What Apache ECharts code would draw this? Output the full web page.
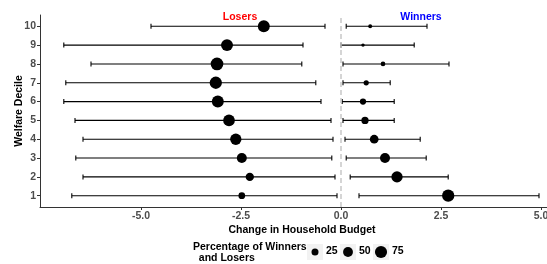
<!DOCTYPE html>
<html>
<head>
<meta charset="utf-8">
<script src="https://cdn.jsdelivr.net/npm/echarts@6/dist/echarts.min.js"></script>
<style>
  html, body { margin: 0; padding: 0; background: #fff; }
  #chart { width: 547px; height: 264px; }
</style>
</head>
<body>
<div id="chart"></div>
<script>
// deciles 1..10 (bottom to top)
var deciles = [1, 2, 3, 4, 5, 6, 7, 8, 9, 10];

// losers: mean change, range and share (%)
var loserMid  = [-2.48, -2.28, -2.48, -2.63, -2.80, -3.08, -3.13, -3.10, -2.85, -1.93];
var loserLow  = [-6.73, -6.45, -6.63, -6.45, -6.65, -6.93, -6.88, -6.25, -6.93, -4.75];
var loserHigh = [-0.10, -0.15, -0.23, -0.20, -0.25, -0.50, -0.63, -0.98, -0.95, -0.40];
var loserPct  = [23, 35, 51, 65, 70, 73, 77, 82, 73, 73];

// winners
var winnerMid  = [2.68, 1.40, 1.10, 0.83, 0.60, 0.55, 0.63, 1.05, 0.55, 0.73];
var winnerLow  = [0.45, 0.23, 0.13, 0.10, 0.05, 0.03, 0.05, 0.05, 0.00, 0.13];
var winnerHigh = [4.95, 2.68, 2.13, 1.98, 1.33, 1.33, 1.23, 2.70, 1.83, 2.15];
var winnerPct  = [77, 65, 51, 39, 27, 20, 14, 11, 6, 8];

var xTicks = [-5, -2.5, 0, 2.5, 5];
var legendPct = [25, 50, 75];

var FONT = 'Liberation Sans, Arial, Helvetica, sans-serif';

function dotSize(p) {
	return 1.4 * Math.sqrt(p);
}

function rangeData(lo, hi) {
	var out = [];
	for (var i = 0; i < deciles.length; i++) out.push([deciles[i], lo[i], hi[i]]);
	return out;
}

function pointData(mid, pct) {
	var out = [];
	for (var i = 0; i < deciles.length; i++) out.push([mid[i], deciles[i], pct[i]]);
	return out;
}

// horizontal error bar with small caps
function renderRange(params, api) {
	var y = api.value(0);
	var a = api.coord([api.value(1), y]);
	var b = api.coord([api.value(2), y]);
	var st = { stroke: '#000', lineWidth: 1.1 };
	var cap = 2.5;
	return {
		type: 'group',
		children: [
			{ type: 'line', shape: { x1: a[0], y1: a[1], x2: b[0], y2: b[1] }, style: st },
			{ type: 'line', shape: { x1: a[0], y1: a[1] - cap, x2: a[0], y2: a[1] + cap }, style: st },
			{ type: 'line', shape: { x1: b[0], y1: b[1] - cap, x2: b[0], y2: b[1] + cap }, style: st }
		]
	};
}

// legend built by hand (keys of different sizes)
var legendItems = [];
legendItems.push({
	type: 'text', left: 193, top: 242,
	style: { text: 'Percentage of Winners\n  and Losers', font: 'bold 10.5px ' + FONT, fill: '#000', lineHeight: 11 }
});
var keyX = [307, 340, 373];
for (var k = 0; k < legendPct.length; k++) {
	legendItems.push({
		type: 'rect', shape: { x: keyX[k], y: 244, width: 16, height: 16 },
		style: { fill: '#f2f2f2' }
	});
	legendItems.push({
		type: 'circle', shape: { cx: keyX[k] + 8, cy: 252, r: dotSize(legendPct[k]) / 2 },
		style: { fill: '#000' }
	});
	legendItems.push({
		type: 'text', x: keyX[k] + 19, y: 251.5,
		style: { text: String(legendPct[k]), font: 'bold 10.5px ' + FONT, fill: '#000', verticalAlign: 'middle' }
	});
}

var chart = echarts.init(document.getElementById('chart'), null, { renderer: 'canvas' });

var option = {
	animation: false,
	backgroundColor: '#fff',
	grid: { left: 40, right: 0, top: 15, bottom: 57, outerBoundsMode: 'none' },
	xAxis: {
		type: 'value',
		min: -7.525,
		max: 5.15,
		splitLine: { show: false },
		axisLine: { onZero: false, lineStyle: { color: '#333', width: 1 } },
		axisTick: { show: true, length: 3, customValues: xTicks, lineStyle: { color: '#333' } },
		axisLabel: {
			customValues: xTicks, margin: 4, hideOverlap: false,
			color: '#4d4d4d', fontWeight: 'bold', fontSize: 10.5, fontFamily: FONT,
			formatter: function (v) { return v.toFixed(1); }
		}
	},
	yAxis: {
		type: 'value',
		min: 0.4,
		max: 10.6,
		splitLine: { show: false },
		axisLine: { show: true, onZero: false, lineStyle: { color: '#333', width: 1 } },
		axisTick: { show: true, length: 3, customValues: deciles, lineStyle: { color: '#333' } },
		axisLabel: {
			customValues: deciles, margin: 4,
			color: '#4d4d4d', fontWeight: 'bold', fontSize: 10.5, fontFamily: FONT
		}
	},
	graphic: [
		{ type: 'text', x: 240, y: 17, style: { text: 'Losers', font: 'bold 10.5px ' + FONT, fill: '#ff0000', align: 'center', verticalAlign: 'middle' } },
		{ type: 'text', x: 421, y: 17, style: { text: 'Winners', font: 'bold 10.5px ' + FONT, fill: '#0000ff', align: 'center', verticalAlign: 'middle' } },
		{ type: 'text', x: 302, y: 230, style: { text: 'Change in Household Budget', font: 'bold 10.5px ' + FONT, fill: '#000', align: 'center', verticalAlign: 'middle' } },
		{ type: 'text', x: 19, y: 111, rotation: Math.PI / 2, style: { text: 'Welfare Decile', font: 'bold 10.5px ' + FONT, fill: '#000', align: 'center', verticalAlign: 'middle' } }
	].concat(legendItems),
	series: [
		{
			type: 'scatter', name: 'zero', data: [], silent: true,
			markLine: {
				silent: true, symbol: 'none', label: { show: false },
				lineStyle: { color: '#c8c8c8', type: [5, 3], width: 1.5 },
				data: [{ xAxis: 0 }]
			}
		},
		{ type: 'custom', name: 'loserRange', renderItem: renderRange, encode: { x: [1, 2], y: 0 }, data: rangeData(loserLow, loserHigh), z: 2 },
		{ type: 'custom', name: 'winnerRange', renderItem: renderRange, encode: { x: [1, 2], y: 0 }, data: rangeData(winnerLow, winnerHigh), z: 2 },
		{
			type: 'scatter', name: 'losers', data: pointData(loserMid, loserPct), z: 3,
			symbolSize: function (v) { return dotSize(v[2]); },
			itemStyle: { color: '#000', opacity: 1 }
		},
		{
			type: 'scatter', name: 'winners', data: pointData(winnerMid, winnerPct), z: 3,
			symbolSize: function (v) { return dotSize(v[2]); },
			itemStyle: { color: '#000', opacity: 1 }
		}
	]
};
chart.setOption(option);
</script>
</body>
</html>
